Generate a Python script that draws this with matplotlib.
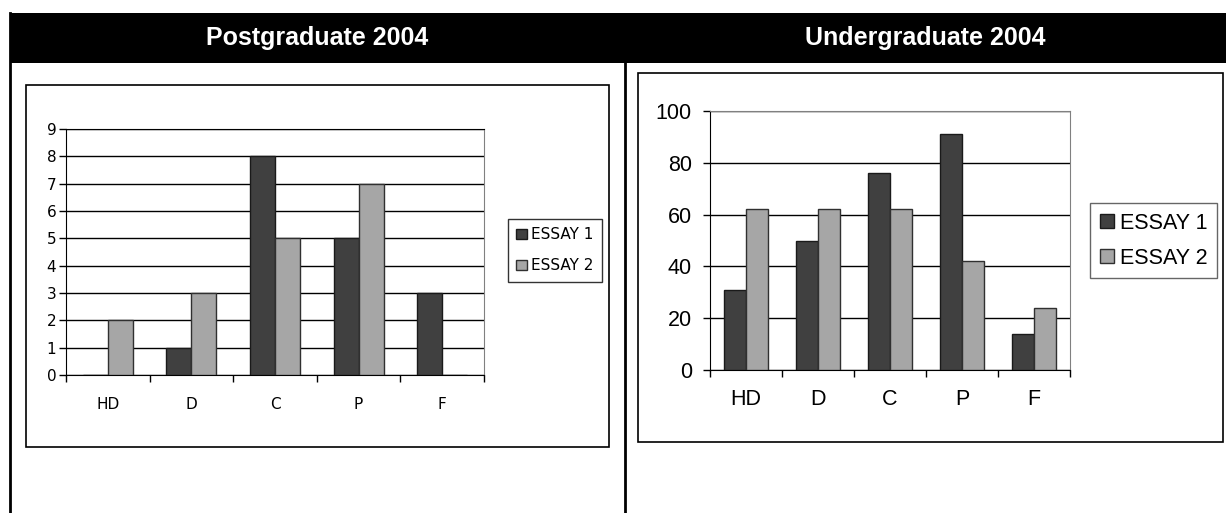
import numpy as np
import matplotlib
matplotlib.use("Agg")
import matplotlib.pyplot as plt
from matplotlib.patches import Rectangle

# Data
grades = ["HD", "D", "C", "P", "F"]
post_essay1 = [0, 1, 8, 5, 3]
post_essay2 = [2, 3, 5, 7, 0]
under_essay1 = [31, 50, 76, 91, 14]
under_essay2 = [62, 62, 62, 42, 24]
series_names = ["ESSAY 1", "ESSAY 2"]

W, H = 1226, 513
dark = "#404040"
light = "#a6a6a6"

fig = plt.figure(figsize=(W / 100, H / 100), dpi=100)

# background layer in pixel coordinates
bg = fig.add_axes([0, 0, 1, 1])
bg.set_xlim(0, W)
bg.set_ylim(H, 0)
bg.axis("off")
bg.add_patch(Rectangle((10, 13), W - 10, 50, color="black", lw=0))
bg.plot([10, 10], [13, H], color="black", lw=2)
bg.plot([625, 625], [63, H], color="black", lw=2)
bg.text(317, 38, "Postgraduate 2004", color="white", fontsize=18,
        fontweight="bold", family="Liberation Sans", ha="center", va="center")
bg.text(925, 38, "Undergraduate 2004", color="white", fontsize=18,
        fontweight="bold", family="Liberation Sans", ha="center", va="center")
# chart frames
bg.add_patch(Rectangle((26, 85), 583, 362, fill=False, ec="black", lw=1.2))
bg.add_patch(Rectangle((638, 73), 585, 369, fill=False, ec="black", lw=1.2))


def px_axes(x0, y0, x1, y1):
    return fig.add_axes([x0 / W, 1 - y1 / H, (x1 - x0) / W, (y1 - y0) / H])


def bar_chart(ax, e1, e2, ymax, ystep, font, fsize, pad, ypad):
    x = np.arange(len(grades))
    w = 0.3
    ax.bar(x - w / 2, e1, w, color=dark, edgecolor="#1a1a1a", lw=1, zorder=3,
           label=series_names[0])
    ax.bar(x + w / 2, e2, w, color=light, edgecolor="#303030", lw=1, zorder=3,
           label=series_names[1])
    ax.set_xlim(-0.5, len(grades) - 0.5)
    ax.set_ylim(0, ymax)
    ax.set_yticks(np.arange(0, ymax + 1, ystep))
    ax.yaxis.grid(True, color="black", lw=1, zorder=1)
    ax.set_axisbelow(True)
    ax.set_xticks(x)
    ax.set_xticklabels(grades)
    ax.set_xticks(np.arange(-0.5, len(grades), 1), minor=True)
    ax.tick_params(axis="x", which="major", length=0, pad=pad)
    ax.tick_params(axis="x", which="minor", length=5, width=1, color="black")
    ax.tick_params(axis="y", length=5, width=1, color="black", pad=ypad)
    for s in ["top", "right"]:
        ax.spines[s].set_color("#808080")
    for s in ["left", "bottom"]:
        ax.spines[s].set_color("black")
    for lab in ax.get_xticklabels() + ax.get_yticklabels():
        lab.set_family(font)
        lab.set_fontsize(fsize)


narrow = ["DejaVu Sans"]

ax1 = px_axes(66, 129, 484, 375)
bar_chart(ax1, post_essay1, post_essay2, 9, 1, narrow, 11, 16, 2)
ax1.spines["top"].set_color("black")
leg1 = ax1.legend(loc="upper left", bbox_to_anchor=(508 / W, 1 - 219 / H),
                  bbox_transform=fig.transFigure, frameon=True, fancybox=False,
                  handlelength=0.7, handleheight=0.7, handletextpad=0.25,
                  borderpad=0.55, labelspacing=1.05, borderaxespad=0,
                  prop={"family": narrow, "size": 11})
leg1.get_frame().set_edgecolor("black")
leg1.get_frame().set_linewidth(1)

ax2 = px_axes(710, 111, 1070, 370)
bar_chart(ax2, under_essay1, under_essay2, 100, 20, "Liberation Sans", 15.5, 14, 8)
leg2 = ax2.legend(loc="upper left", bbox_to_anchor=(1090 / W, 1 - 203 / H),
                  bbox_transform=fig.transFigure, frameon=True, fancybox=False,
                  handlelength=0.65, handleheight=0.65, handletextpad=0.3,
                  borderpad=0.45, labelspacing=0.65, borderaxespad=0,
                  prop={"family": "Liberation Sans", "size": 15.5})
leg2.get_frame().set_edgecolor("#404040")
leg2.get_frame().set_linewidth(1)

fig.savefig("out.png", dpi=100)
